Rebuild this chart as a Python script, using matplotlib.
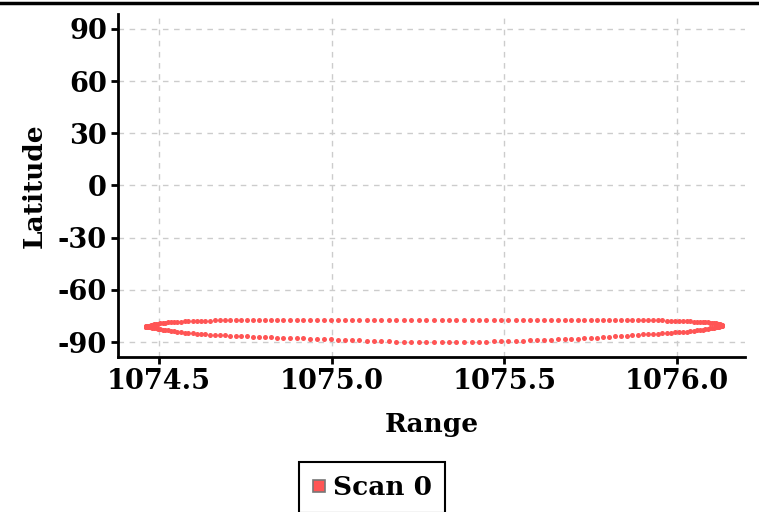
import matplotlib
matplotlib.use("Agg")
import matplotlib.pyplot as plt
from matplotlib.lines import Line2D

# ------------------------------------------------------------
# Data (one scan, upper and lower edge)
# ------------------------------------------------------------
scan_range = [
    1074.462, 1074.462, 1074.463, 1074.465, 1074.467, 1074.469, 1074.472, 1074.476, 1074.480, 1074.485,
    1074.490, 1074.496, 1074.503, 1074.510, 1074.517, 1074.526, 1074.534, 1074.543, 1074.553, 1074.563,
    1074.574, 1074.585, 1074.597, 1074.609, 1074.621, 1074.634, 1074.648, 1074.662, 1074.676, 1074.691,
    1074.706, 1074.722, 1074.738, 1074.754, 1074.771, 1074.788, 1074.806, 1074.824, 1074.842, 1074.860,
    1074.879, 1074.898, 1074.917, 1074.937, 1074.957, 1074.977, 1074.997, 1075.018, 1075.038, 1075.059,
    1075.080, 1075.101, 1075.123, 1075.144, 1075.166, 1075.187, 1075.209, 1075.231, 1075.252, 1075.274,
    1075.296, 1075.318, 1075.340, 1075.361, 1075.383, 1075.405, 1075.426, 1075.448, 1075.469, 1075.491,
    1075.512, 1075.533, 1075.554, 1075.574, 1075.595, 1075.615, 1075.635, 1075.655, 1075.675, 1075.694,
    1075.713, 1075.732, 1075.750, 1075.768, 1075.786, 1075.804, 1075.821, 1075.838, 1075.854, 1075.870,
    1075.886, 1075.901, 1075.916, 1075.930, 1075.944, 1075.958, 1075.971, 1075.983, 1075.995, 1076.007,
    1076.018, 1076.029, 1076.039, 1076.049, 1076.058, 1076.067, 1076.075, 1076.082, 1076.089, 1076.096,
    1076.102, 1076.107, 1076.112, 1076.116, 1076.120, 1076.123, 1076.125, 1076.127, 1076.129, 1076.130,
    1076.130,
]

lat_upper = [
    -81.1, -81.0, -81.0, -80.9, -80.8, -80.7, -80.5, -80.3, -80.1, -79.9,
    -79.7, -79.5, -79.3, -79.1, -78.9, -78.7, -78.5, -78.4, -78.3, -78.2,
    -78.1, -78.0, -77.9, -77.8, -77.8, -77.7, -77.7, -77.6, -77.6, -77.6,
    -77.6, -77.5, -77.5, -77.5, -77.5, -77.5, -77.4, -77.4, -77.4, -77.4,
    -77.4, -77.4, -77.3, -77.3, -77.3, -77.3, -77.3, -77.3, -77.3, -77.3,
    -77.3, -77.3, -77.3, -77.3, -77.3, -77.3, -77.3, -77.3, -77.3, -77.3,
    -77.3, -77.3, -77.3, -77.3, -77.3, -77.3, -77.3, -77.3, -77.3, -77.3,
    -77.3, -77.3, -77.3, -77.3, -77.3, -77.4, -77.4, -77.4, -77.4, -77.4,
    -77.4, -77.4, -77.5, -77.5, -77.5, -77.5, -77.5, -77.5, -77.6, -77.6,
    -77.6, -77.6, -77.6, -77.6, -77.6, -77.6, -77.7, -77.7, -77.7, -77.8,
    -77.9, -78.0, -78.1, -78.2, -78.3, -78.4, -78.5, -78.6, -78.7, -78.8,
    -79.0, -79.1, -79.3, -79.4, -79.6, -79.7, -79.9, -80.0, -80.1, -80.2,
    -80.3,
]

lat_lower = [
    -81.1, -81.1, -81.2, -81.2, -81.3, -81.4, -81.5, -81.6, -81.8, -81.9,
    -82.1, -82.3, -82.5, -82.8, -83.0, -83.3, -83.6, -83.9, -84.1, -84.4,
    -84.6, -84.7, -85.0, -85.2, -85.3, -85.5, -85.7, -85.8, -86.0, -86.1,
    -86.3, -86.4, -86.6, -86.7, -86.9, -87.0, -87.1, -87.2, -87.4, -87.5,
    -87.6, -87.8, -87.9, -88.1, -88.2, -88.4, -88.5, -88.7, -88.8, -89.0,
    -89.1, -89.2, -89.4, -89.5, -89.6, -89.7, -89.8, -89.9, -90.0, -90.1,
    -90.1, -90.1, -90.1, -90.0, -90.0, -89.9, -89.8, -89.7, -89.6, -89.5,
    -89.4, -89.3, -89.2, -89.1, -89.0, -88.8, -88.7, -88.5, -88.4, -88.2,
    -88.1, -87.9, -87.7, -87.4, -87.2, -87.0, -86.8, -86.5, -86.3, -86.0,
    -85.8, -85.6, -85.4, -85.2, -85.1, -84.9, -84.8, -84.7, -84.5, -84.4,
    -84.2, -84.0, -83.8, -83.6, -83.3, -83.1, -82.9, -82.7, -82.4, -82.2,
    -82.0, -81.8, -81.6, -81.4, -81.2, -81.1, -80.9, -80.8, -80.7, -80.6,
    -80.5,
]

x_ticks = [1074.5, 1075.0, 1075.5, 1076.0]
y_ticks = [90, 60, 30, 0, -30, -60, -90]
series_name = "Scan 0"
point_color = "#ff5555"

# ------------------------------------------------------------
# Figure
# ------------------------------------------------------------
plt.rcParams["font.family"] = ["DejaVu Serif"]
plt.rcParams["font.weight"] = "bold"
plt.rcParams["axes.unicode_minus"] = False  # plain hyphen like the original

fig = plt.figure(figsize=(7.59, 5.12), dpi=100)
ax = fig.add_axes([0.1555, 0.3027, 0.826, 0.670])

ax.scatter(scan_range, lat_upper, s=13, color=point_color, linewidths=0, zorder=3)
ax.scatter(scan_range, lat_lower, s=13, color=point_color, linewidths=0, zorder=3)

ax.set_xlim(1074.381, 1076.197)
ax.set_ylim(-98.6, 98.6)
ax.set_xticks(x_ticks)
ax.set_xticklabels([f"{t:.1f}" for t in x_ticks])
ax.set_yticks(y_ticks)

ax.grid(True, color="#cccccc", linestyle=(0, (4, 4)), linewidth=1)
ax.set_axisbelow(True)

for side in ["top", "right"]:
    ax.spines[side].set_visible(False)
for side in ["left", "bottom"]:
    ax.spines[side].set_linewidth(2)
ax.tick_params(axis="both", direction="out", length=5, width=2,
               labelsize=19.5, pad=3)

ax.set_xlabel("Range", fontsize=19, fontweight="bold", labelpad=12)
ax.set_ylabel("Latitude", fontsize=19, fontweight="bold", labelpad=8)

# black rule across the top of the figure
fig.add_artist(Line2D([0, 1], [1 - 3 / 512, 1 - 3 / 512], color="black",
                      linewidth=2.5, transform=fig.transFigure))

handle = Line2D([], [], linestyle="none", marker="s", markersize=9,
                markerfacecolor=point_color, markeredgecolor="#777777",
                markeredgewidth=1.2)
leg = fig.legend([handle], [series_name], loc="upper center",
                 bbox_to_anchor=(372 / 759, 1 - 462 / 512), borderaxespad=0,
                 fancybox=False, edgecolor="black", framealpha=1,
                 prop={"size": 19, "weight": "bold"},
                 handlelength=0.5, handletextpad=0.3, borderpad=0.5)
leg.get_frame().set_linewidth(1.5)

fig.savefig("out.png", dpi=100)
